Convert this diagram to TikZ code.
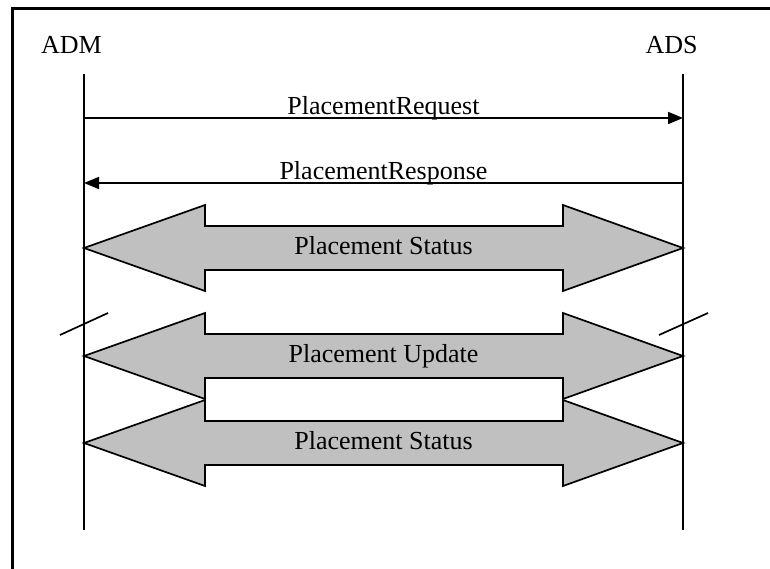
\documentclass[tikz,border=0pt]{standalone}
\usepackage{fontspec}
\setmainfont{Liberation Serif}
\usepackage{xcolor}
\usetikzlibrary{arrows.meta, positioning}
\definecolor{arrowgray}{RGB}{192,192,192}

\begin{document}
\begin{tikzpicture}[x=1pt, y=1pt,
            style = {line width=1.7pt},
            msg/.style = {-{Triangle[length=15pt, width=12pt]}},
            bigarrow/.style = {draw, fill=arrowgray, line join=miter},
            lbl/.style = {font=\fontsize{26}{30}\selectfont, inner sep=0pt}]
            \useasboundingbox (0,0) rectangle (770,-569);
            % frame (only top and left edge show)
            \draw[line width=3pt] (770,-9) -- (12,-9) -- (12,-569);
            \node (adm)[lbl, anchor=base] at (71.5,-54) {ADM};
            \node (ads)[lbl, anchor=base] at (671.5,-54) {ADS};
            \coordinate (admtop) at (84,-74);
            \coordinate (admbot) at (84,-530);
            \coordinate (adstop) at (683,-74);
            \coordinate (adsbot) at (683,-530);
            \draw (admtop) -- (admbot);
            \draw (adstop) -- (adsbot);
            % messages
            \coordinate (req1) at (admtop |- 0,-118);
            \coordinate (req2) at (adstop |- 0,-118);
            \coordinate (rsp1) at (admtop |- 0,-183);
            \coordinate (rsp2) at (adstop |- 0,-183);
            \draw[msg] (req1) -- node[lbl, anchor=base, yshift=3pt] (reqlbl) {PlacementRequest} (req2);
            \draw[msg] (rsp2) -- node[lbl, anchor=base, yshift=3pt] (rsplbl) {PlacementResponse} (rsp1);
            % status / update arrows
            \foreach \yy/\nm/\txt in {248/st1/Placement Status, 356/upd/Placement Update, 443/st2/Placement Status}{
                \draw[bigarrow] (84,-\yy) -- ++(121,43) -- ++(0,-21) -- ++(358,0) -- ++(0,21)
                    -- ++(120,-43) -- ++(-120,-43) -- ++(0,21) -- ++(-358,0) -- ++(0,-21) -- cycle;
                \node (\nm)[lbl, anchor=base] at (383.5,-\yy-6) {\txt};
            }
            % break marks
            \draw (60,-335) -- (108,-313);
            \draw (659,-335) -- (708,-313);
            \end{tikzpicture}
\end{document}
